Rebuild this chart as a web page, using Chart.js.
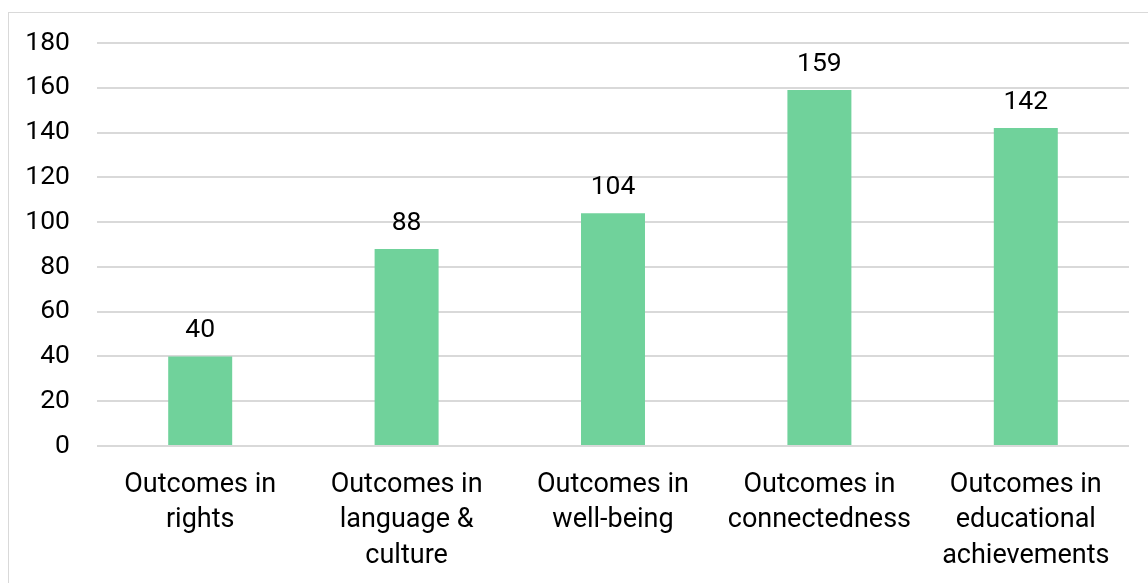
<!DOCTYPE html>
<html>
<head>
<meta charset="utf-8">
<script src="https://cdn.jsdelivr.net/npm/chart.js@4"></script>
<style>
  html, body { margin: 0; padding: 0; background: #ffffff; overflow: hidden; }
  #frame { position: absolute; left: 8px; top: 12px; width: 1200px; height: 620px; border-left: 1px solid #d9d9d9; border-top: 1px solid #d9d9d9; }
  #wrap { position: absolute; left: 0; top: 0; width: 1148px; height: 583px; }
</style>
</head>
<body>
<div id="frame"></div>
<div id="wrap"><canvas id="c" width="1148" height="583"></canvas></div>
<script>
const categories = [
  ["Outcomes in", "rights"],
  ["Outcomes in", "language &", "culture"],
  ["Outcomes in", "well-being"],
  ["Outcomes in", "connectedness"],
  ["Outcomes in", "educational", "achievements"]
];
const values = [40, 88, 104, 159, 142];
const yTicks = [0, 20, 40, 60, 80, 100, 120, 140, 160, 180];

const FONT = "Roboto, 'Noto Sans', sans-serif";

const valueLabels = {
  id: 'valueLabels',
  afterDatasetsDraw(chart) {
    const ctx = chart.ctx;
    const meta = chart.getDatasetMeta(0);
    ctx.save();
    ctx.font = "26.5px " + FONT;
    ctx.fillStyle = "#000000";
    ctx.textAlign = "center";
    ctx.textBaseline = "middle";
    meta.data.forEach((bar, i) => {
      ctx.fillText(String(values[i]), bar.x, bar.y - 26);
    });
    ctx.restore();
  }
};

new Chart(document.getElementById('c'), {
  type: 'bar',
  data: {
    labels: categories,
    datasets: [{
      data: values,
      backgroundColor: '#70D29B',
      borderWidth: 0,
      barPercentage: 0.31,
      categoryPercentage: 1.0
    }]
  },
  options: {
    responsive: false,
    animation: false,
    layout: { padding: { left: 0, right: 19, top: 43, bottom: 0 } },
    plugins: { legend: { display: false }, tooltip: { enabled: false }, title: { display: false } },
    scales: {
      x: {
        grid: { display: false, drawTicks: false },
        border: { display: false },
        ticks: {
          color: '#000000',
          font: { family: FONT, size: 27, lineHeight: 1.3 },
          padding: 22,
          maxRotation: 0,
          autoSkip: false
        },
        afterFit(scale) { scale.height = 137; }
      },
      y: {
        min: 0,
        max: 180,
        afterBuildTicks(scale) { scale.ticks = yTicks.map(v => ({ value: v })); },
        grid: { color: '#d9d9d9', lineWidth: 2, drawTicks: false },
        border: { display: false },
        ticks: {
          color: '#000000',
          font: { family: FONT, size: 26.5 },
          padding: 27
        },
        afterFit(scale) { scale.width = 97; }
      }
    }
  },
  plugins: [valueLabels]
});
</script>
</body>
</html>
